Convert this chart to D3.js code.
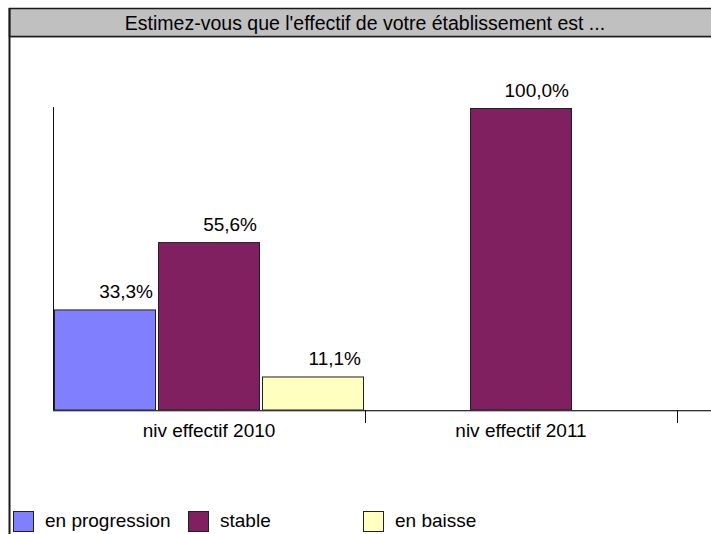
<!DOCTYPE html>
<html><head><meta charset="utf-8">
<script src="https://cdn.jsdelivr.net/npm/d3@7"></script>
<style>html,body{margin:0;padding:0;background:#fff;}svg{display:block;}text{font-family:"Liberation Sans",Arial,sans-serif;fill:#000;}</style>
</head><body>
<svg id="c" width="711" height="534"></svg>
<script>
const title = "Estimez-vous que l'effectif de votre établissement est ...";
const categories = ["niv effectif 2010", "niv effectif 2011"];
const seriesNames = ["en progression", "stable", "en baisse"];
const seriesColors = ["#8080FF", "#802060", "#FFFFC0"];
const enProgression = [33.3, 0];
const stable = [55.6, 100.0];
const enBaisse = [11.1, 0];
const seriesValues = [enProgression, stable, enBaisse];

const svg = d3.select("#c");
const W = 711, H = 534;
const plotLeft = 53, plotRight = 677, baseY = 410, topY = 108;

// frame + title bar
svg.append("rect").attr("x",0).attr("y",0).attr("width",W).attr("height",H).attr("fill","#fff");
svg.append("rect").attr("x",9.5).attr("y",8.5).attr("width",W+10).attr("height",28)
  .attr("fill","#C0C0C0").attr("stroke","#1a1a1a").attr("stroke-width",1.5);
svg.append("line").attr("x1",10).attr("x2",W).attr("y1",37.5).attr("y2",37.5).attr("stroke","#9a9a9a");
svg.append("line").attr("x1",9.5).attr("x2",9.5).attr("y1",8).attr("y2",H).attr("stroke","#1a1a1a").attr("stroke-width",2);
const tt = svg.append("text").attr("x",365).attr("y",29.5).attr("text-anchor","middle")
  .style("font-size","19.5px").text(title);
const tw = tt.node().getComputedTextLength();
if (Math.abs(tw-480) > 4) tt.attr("textLength",480).attr("lengthAdjust","spacingAndGlyphs");

const x0 = d3.scaleBand().domain(categories).range([plotLeft, plotRight]).padding(0);
const y = d3.scaleLinear().domain([0,100]).range([baseY, topY]);
const slot = x0.bandwidth()/seriesNames.length;

const bars = [];
categories.forEach((c,ci)=>{
  const present = seriesNames.map((s,si)=>({s,si,v:seriesValues[si][ci]})).filter(d=>d.v>0);
  const start = x0(c) + (x0.bandwidth() - present.length*slot)/2;
  present.forEach((d,k)=>bars.push({c, si:d.si, v:d.v, x:start + k*slot}));
});

const g = svg.append("g");
g.selectAll("rect.bar").data(bars).join("rect").attr("class","bar")
  .attr("x",d=>d.x+1.5).attr("width",slot-3)
  .attr("y",d=>y(d.v)+0.5).attr("height",d=>baseY-y(d.v)-0.5)
  .attr("fill",d=>seriesColors[d.si]).attr("stroke","#222").attr("stroke-width",1);

g.selectAll("text.lbl").data(bars).join("text").attr("class","lbl")
  .attr("x",d=>d.x+slot-4).attr("y",d=>y(d.v)-11).attr("text-anchor","end")
  .style("font-size","19px")
  .text(d=>d.v.toFixed(1).replace(".",",")+"%");

// axes
svg.append("line").attr("x1",plotLeft+0.5).attr("x2",plotLeft+0.5).attr("y1",107).attr("y2",baseY).attr("stroke","#111");
svg.append("line").attr("x1",plotLeft).attr("x2",W).attr("y1",baseY+0.5).attr("y2",baseY+0.5).attr("stroke","#333");
svg.append("line").attr("x1",plotLeft).attr("x2",W).attr("y1",baseY+1.5).attr("y2",baseY+1.5).attr("stroke","#bbb");
categories.forEach(c=>{
  const tx = Math.round(x0(c)+x0.bandwidth())+0.5;
  svg.append("line").attr("x1",tx).attr("x2",tx).attr("y1",baseY).attr("y2",baseY+13).attr("stroke","#111");
  svg.append("text").attr("x",x0(c)+x0.bandwidth()/2).attr("y",437).attr("text-anchor","middle")
    .style("font-size","19px").text(c);
});

// legend
const leg = svg.append("g");
seriesNames.forEach((s,i)=>{
  const lx = 13 + i*175;
  leg.append("rect").attr("x",lx+0.5).attr("y",511.5).attr("width",20).attr("height",20)
    .attr("fill",seriesColors[i]).attr("stroke","#222");
  leg.append("text").attr("x",lx+32).attr("y",527).style("font-size","19px").text(s);
});
</script>
</body></html>
